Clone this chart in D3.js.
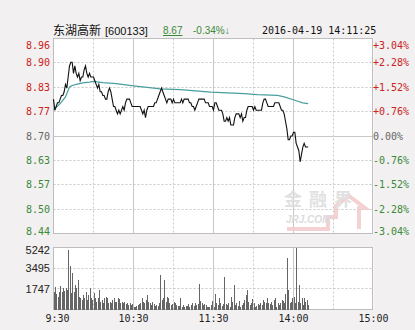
<!DOCTYPE html>
<html>
<head>
<meta charset="utf-8">
<script src="https://cdn.jsdelivr.net/npm/d3@7"></script>
<style>
body { margin: 0; background: #f2f0f0; }
svg { display: block; }
</style>
</head>
<body>
<svg id="chart"></svg>
<script>
// values (one point per trading minute, 9:30 = index 0)

var stockName = "东湖高新";
var stockCode = "[600133]";
var lastPrice = "8.67";
var lastChange = "-0.34%↓";
var stamp = "2016-04-19 14:11:25";

var preClose = 8.70;
var maxPct = 3.04;

var priceTicks = ["8.96", "8.90", "8.83", "8.77", "8.70", "8.63", "8.57", "8.50", "8.44"];
var pctTicks = ["+3.04%", "+2.28%", "+1.52%", "+0.76%", "0.00%", "-0.76%", "-1.52%", "-2.28%", "-3.04%"];
var pctValues = [3.04, 2.28, 1.52, 0.76, 0, -0.76, -1.52, -2.28, -3.04];
var volTicks = [5242, 3495, 1747];
var timeLabels = ["9:30", "10:30", "11:30", "14:00", "15:00"];
var timeIndex = [0, 60, 120, 180, 240];

var prices = [
    8.80, 8.77, 8.78, 8.79, 8.79, 8.80, 8.81, 8.81, 8.82, 8.84,
    8.83, 8.86, 8.89, 8.90, 8.90, 8.87, 8.89, 8.87, 8.86, 8.87,
    8.85, 8.86, 8.86, 8.88, 8.89, 8.87, 8.86, 8.87, 8.86, 8.86,
    8.86, 8.85, 8.84, 8.83, 8.84, 8.82, 8.82, 8.81, 8.81, 8.80,
    8.80, 8.82, 8.83, 8.82, 8.80, 8.78, 8.78, 8.77, 8.76, 8.77,
    8.76, 8.77, 8.78, 8.77, 8.79, 8.80, 8.80, 8.80, 8.79, 8.78,
    8.78, 8.78, 8.78, 8.78, 8.78, 8.78, 8.77, 8.76, 8.77, 8.75,
    8.77, 8.78, 8.78, 8.78, 8.78, 8.78, 8.79, 8.79, 8.80, 8.81,
    8.82, 8.83, 8.82, 8.81, 8.80, 8.79, 8.80, 8.80, 8.80, 8.79,
    8.80, 8.79, 8.79, 8.79, 8.79, 8.79, 8.80, 8.79, 8.80, 8.80,
    8.80, 8.80, 8.79, 8.79, 8.78, 8.78, 8.77, 8.78, 8.79, 8.80,
    8.80, 8.80, 8.80, 8.80, 8.79, 8.79, 8.79, 8.78, 8.78, 8.78,
    8.77, 8.79, 8.79, 8.78, 8.77, 8.77, 8.77, 8.76, 8.74, 8.74,
    8.75, 8.74, 8.75, 8.73, 8.73, 8.73, 8.75, 8.76, 8.76, 8.76,
    8.75, 8.76, 8.74, 8.75, 8.75, 8.77, 8.78, 8.78, 8.78, 8.78,
    8.77, 8.78, 8.77, 8.77, 8.77, 8.77, 8.77, 8.79, 8.80, 8.80,
    8.79, 8.78, 8.78, 8.78, 8.78, 8.78, 8.79, 8.79, 8.79, 8.79,
    8.78, 8.77, 8.77, 8.76, 8.74, 8.72, 8.69, 8.69, 8.70, 8.70,
    8.71, 8.71, 8.68, 8.67, 8.66, 8.63, 8.65, 8.67, 8.68, 8.67,
    8.67, 8.67
];

// average price line, read at the minutes where it bends
var avgIndex = [0, 5, 9, 11, 12, 14, 17, 22, 27, 30, 37, 47, 60, 72, 80, 95, 118, 143, 153, 168, 173, 181, 187, 191];
var avgPrices = [8.770, 8.788, 8.806, 8.824, 8.833, 8.837, 8.840, 8.844, 8.846, 8.848, 8.845, 8.842,
                 8.836, 8.831, 8.828, 8.826, 8.819, 8.815, 8.812, 8.810, 8.806, 8.797, 8.790, 8.788];

var volumes = [
    1500, 1930, 1280, 1080, 1500, 2010, 1500, 1840, 1560, 1790,
    1650, 5050, 3720, 1360, 3060, 1500, 2070, 1790, 2500, 1080,
    990, 790, 1220, 940, 1500, 790, 1220, 1790, 940, 790,
    1360, 940, 650, 940, 1650, 650, 790, 510, 940, 1080,
    990, 510, 650, 510, 790, 940, 650, 650, 940, 880,
    510, 650, 510, 600, 430, 510, 370, 510, 370, 430,
    230, 230, 310, 370, 430, 510, 940, 600, 510, 790,
    1220, 600, 510, 370, 600, 430, 280, 370, 310, 510,
    2920, 790, 940, 2500, 650, 1080, 940, 510, 370, 430,
    650, 510, 370, 280, 310, 940, 230, 370, 230, 280,
    280, 430, 230, 370, 510, 310, 510, 370, 430, 2130,
    710, 510, 370, 430, 370, 230, 230, 230, 370, 710,
    230, 1280, 510, 370, 940, 510, 310, 430, 2780, 430,
    370, 510, 230, 1080, 650, 2070, 370, 510, 310, 710,
    230, 370, 510, 790, 1220, 1650, 650, 370, 510, 880,
    510, 230, 310, 430, 370, 510, 370, 790, 600, 510,
    940, 510, 430, 650, 370, 790, 940, 230, 510, 370,
    510, 790, 710, 510, 1280, 4340, 1650, 510, 650, 940,
    1080, 510, 5180, 650, 2100, 510, 940, 370, 940, 650,
    790, 370
];

// settings

var svgWidth = 415;
var svgHeight = 330;
var left = 53.5, right = 373.5;
var priceTop = 38.5, priceBottom = 233.5;
var volTop = 247.5, volBottom = 309.5;

var red = "#cc2222", green = "#3a8a3a", grey = "#666666";
var gridColor = "#c8c8c8";
var mono = "'DejaVu Sans Mono', monospace";

var svg = d3.select('#chart')
            .attr('width', svgWidth)
            .attr('height', svgHeight);

svg.append('rect')
    .attr('width', svgWidth)
    .attr('height', svgHeight)
    .attr('fill', '#f2f0f0');

// scales

var x = d3.scaleLinear().domain([0, 240]).range([left, right]);
var yPct = d3.scaleLinear().domain([-maxPct, maxPct]).range([priceBottom, priceTop]);
var yPrice = d3.scaleLinear()
               .domain([preClose * (1 - maxPct / 100), preClose * (1 + maxPct / 100)])
               .range([priceBottom, priceTop]);
var yVol = d3.scaleLinear().domain([0, volTicks[0]]).range([volBottom, volTop]);

// panels

[[priceTop, priceBottom], [volTop, volBottom]].forEach(function(p){
    svg.append('rect')
        .attr('x', left)
        .attr('y', p[0])
        .attr('width', right - left)
        .attr('height', p[1] - p[0])
        .attr('fill', '#ffffff');
});

// vertical grid, every half hour
var gridIndex = [30, 60, 90, 120, 150, 180, 210];
[[priceTop, priceBottom], [volTop, volBottom]].forEach(function(p){
    svg.append('g').selectAll('line')
        .data(gridIndex)
        .enter()
        .append('line')
        .attr('x1', function(d){ return Math.round(x(d) - 0.5) + 0.5; })
        .attr('x2', function(d){ return Math.round(x(d) - 0.5) + 0.5; })
        .attr('y1', p[0])
        .attr('y2', p[1])
        .attr('stroke', gridColor)
        .attr('stroke-dasharray', function(d){ return d % 60 === 0 ? null : '2,2'; });
});

// horizontal grid
svg.append('g').selectAll('line')
    .data(pctValues.slice(1, -1))
    .enter()
    .append('line')
    .attr('x1', left)
    .attr('x2', right)
    .attr('y1', function(d){ return Math.round(yPct(d) - 0.5) + 0.5; })
    .attr('y2', function(d){ return Math.round(yPct(d) - 0.5) + 0.5; })
    .attr('stroke', gridColor)
    .attr('stroke-dasharray', function(d){ return d === 0 ? null : '2,2'; });

svg.append('g').selectAll('line')
    .data(volTicks.slice(1))
    .enter()
    .append('line')
    .attr('x1', left)
    .attr('x2', right)
    .attr('y1', function(d){ return Math.round(yVol(d) - 0.5) + 0.5; })
    .attr('y2', function(d){ return Math.round(yVol(d) - 0.5) + 0.5; })
    .attr('stroke', gridColor)
    .attr('stroke-dasharray', '2,2');

// watermark
var wm = svg.append('g').attr('opacity', 0.85);
wm.append('path')
    .attr('d', 'M287,229 H328 V217 H336 V206 L349,196 L365,208 H359 V229')
    .attr('fill', 'none')
    .attr('stroke', '#f3c9cc')
    .attr('stroke-width', 4);
wm.append('text')
    .attr('x', 284)
    .attr('y', 206)
    .attr('font-family', "'Noto Sans CJK SC'")
    .attr('font-size', 18)
    .attr('font-weight', 'bold')
    .attr('letter-spacing', 7)
    .attr('fill', '#dcdcdc')
    .text('金融界');
wm.append('text')
    .attr('x', 286)
    .attr('y', 223)
    .attr('font-family', "'Liberation Sans'")
    .attr('font-size', 10)
    .attr('font-style', 'italic')
    .attr('font-weight', 'bold')
    .attr('fill', '#d6d6d6')
    .text('JRJ.COM');

// panel borders
[[priceTop, priceBottom], [volTop, volBottom]].forEach(function(p){
    svg.append('rect')
        .attr('x', left)
        .attr('y', p[0])
        .attr('width', right - left - 1)
        .attr('height', p[1] - p[0])
        .attr('fill', 'none')
        .attr('stroke', '#bdbdbd');
});

// volume bars
svg.append('g').selectAll('rect')
    .data(volumes)
    .enter()
    .append('rect')
    .attr('x', function(d, i){ return Math.round(x(i)) - 0.5; })
    .attr('width', 1)
    .attr('y', function(d){ return yVol(d); })
    .attr('height', function(d){ return volBottom - yVol(d); })
    .attr('fill', '#666666')
    .attr('shape-rendering', 'crispEdges');

// average line
var avgLine = d3.line()
    .x(function(d, i){ return x(avgIndex[i]); })
    .y(function(d){ return yPrice(d); });

svg.append('path')
    .datum(avgPrices)
    .attr('d', avgLine)
    .attr('fill', 'none')
    .attr('stroke', '#4a9e9e')
    .attr('stroke-width', 1.2);

// price line
var priceLine = d3.line()
    .x(function(d, i){ return x(i); })
    .y(function(d){ return yPrice(d); });

svg.append('path')
    .datum(prices)
    .attr('d', priceLine)
    .attr('fill', 'none')
    .attr('stroke', '#111111')
    .attr('stroke-width', 1.1);

// left price labels
function labelColor(i){
    if (i < 4) return red;
    if (i === 4) return grey;
    return green;
}
function clampY(y){ return Math.min(Math.max(y, 45), 231); }

svg.append('g').selectAll('text')
    .data(priceTicks)
    .enter()
    .append('text')
    .attr('x', 50)
    .attr('y', function(d, i){ return clampY(yPct(pctValues[i])) + 3.5; })
    .attr('text-anchor', 'end')
    .attr('font-family', mono)
    .attr('font-size', 10)
    .attr('fill', function(d, i){ return labelColor(i); })
    .text(function(d){ return d; });

// right percent labels
svg.append('g').selectAll('text')
    .data(pctTicks)
    .enter()
    .append('text')
    .attr('x', 373)
    .attr('y', function(d, i){ return clampY(yPct(pctValues[i])) + 3.5; })
    .attr('font-family', mono)
    .attr('font-size', 10)
    .attr('fill', function(d, i){ return labelColor(i); })
    .text(function(d){ return d; });

// volume labels
svg.append('g').selectAll('text')
    .data(volTicks)
    .enter()
    .append('text')
    .attr('x', 50)
    .attr('y', function(d){ return Math.max(yVol(d), 250) + 4; })
    .attr('text-anchor', 'end')
    .attr('font-family', "'Liberation Sans'")
    .attr('font-size', 11)
    .attr('fill', '#222222')
    .text(function(d){ return d; });

// time labels
svg.append('g').selectAll('text')
    .data(timeLabels)
    .enter()
    .append('text')
    .attr('x', function(d, i){ return x(timeIndex[i]) + (i === 0 ? 4 : 0); })
    .attr('y', 322)
    .attr('text-anchor', 'middle')
    .attr('font-family', mono)
    .attr('font-size', 10)
    .attr('fill', '#222222')
    .text(function(d){ return d; });

// title line
svg.append('text')
    .attr('x', 53)
    .attr('y', 34.5)
    .attr('font-family', "'Noto Sans CJK SC'")
    .attr('font-size', 12)
    .attr('fill', '#111111')
    .text(stockName);

svg.append('text')
    .attr('x', 105)
    .attr('y', 34.5)
    .attr('font-family', "'Liberation Sans'")
    .attr('font-size', 11)
    .attr('fill', '#111111')
    .text(stockCode);

svg.append('text')
    .attr('x', 163)
    .attr('y', 34)
    .attr('font-family', "'Liberation Sans'")
    .attr('font-size', 10)
    .attr('fill', green)
    .attr('text-decoration', 'underline')
    .text(lastPrice);

svg.append('text')
    .attr('x', 193)
    .attr('y', 34)
    .attr('font-family', "'Liberation Sans'")
    .attr('font-size', 10)
    .attr('fill', green)
    .text(lastChange);

svg.append('text')
    .attr('x', 262)
    .attr('y', 34)
    .attr('font-family', mono)
    .attr('font-size', 10)
    .attr('fill', '#111111')
    .text(stamp);
</script>
</body>
</html>
